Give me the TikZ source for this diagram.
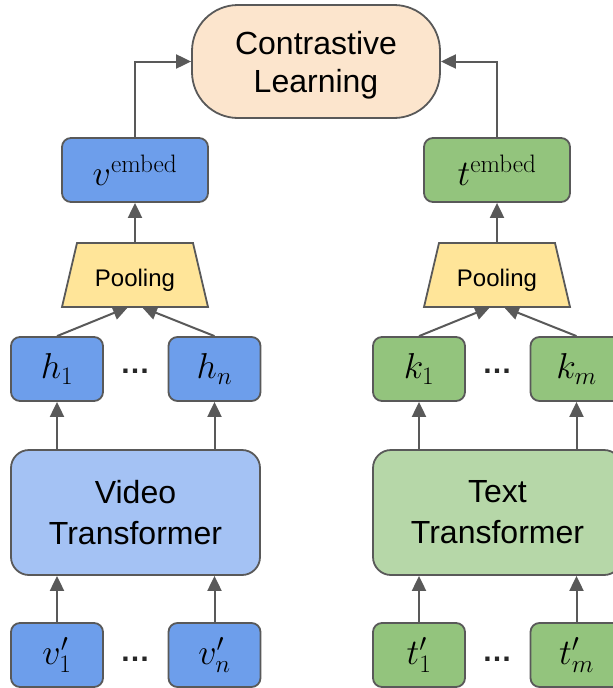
\RequirePackage{fix-cm}
\documentclass[tikz,border=0pt]{standalone}
\usepackage[no-math]{fontspec}
\setmainfont{Liberation Sans}
\usetikzlibrary{arrows.meta}
\definecolor{edgec}{HTML}{595959}
\definecolor{peach}{HTML}{FCE5CD}
\definecolor{blueA}{HTML}{6D9EEB}
\definecolor{blueB}{HTML}{A4C2F4}
\definecolor{greenA}{HTML}{93C47D}
\definecolor{greenB}{HTML}{B6D7A8}
\definecolor{poolc}{HTML}{FFE599}
\newcommand{\lowered}[2]{\raisebox{-#1}[\height][\depth]{#2}}
\tikzset{
  box/.style={draw=edgec, line width=1.8pt, rounded corners=9pt, minimum width=92pt, minimum height=64pt, inner sep=0pt, text=black, font=\fontsize{36}{42}\selectfont},
  vbox/.style={box, fill=blueA},
  gbox/.style={box, fill=greenA},
  embbox/.style={minimum width=146pt},
  bigbox/.style={draw=edgec, line width=1.8pt, rounded corners=18pt, minimum width=249pt, minimum height=125pt, inner sep=0pt, align=center, text=black, font=\fontsize{32}{41}\selectfont},
  clbox/.style={draw=edgec, line width=1.8pt, rounded corners=46pt, fill=peach, minimum width=248pt, minimum height=113pt, inner sep=0pt, align=center, text=black, font=\fontsize{32}{40}\selectfont},
  poolshape/.style={draw=edgec, line width=1.8pt, fill=poolc, line join=miter},
  pooltext/.style={minimum width=146pt, minimum height=64pt, inner sep=0pt, text=black, font=\fontsize{24}{28}\selectfont},
  dotsnode/.style={inner sep=0pt, text=black!85, font=\fontsize{30}{30}\selectfont\bfseries},
  conn/.style={draw=edgec, line width=2pt, -{Triangle[length=15pt,width=14pt]}}
}
\begin{document}
\begin{tikzpicture}[x=1pt,y=-1pt]
\useasboundingbox (0,0) rectangle (613,688);
\clip (0,0) rectangle (613,688);

% top
\node[clbox] (cl) at (316,61.5) {\lowered{4pt}{\begin{tabular}{@{}c@{}}Contrastive\\[-2pt]Learning\end{tabular}}};

% embeddings
\node[vbox, embbox] (vemb) at (135,170) {$v^{\mathrm{embed}}$};
\node[gbox, embbox] (temb) at (497,170) {$t^{\mathrm{embed}}$};

% pooling shapes
\draw[poolshape] (77,243) -- (193,243) -- (208,307) -- (62,307) -- cycle;
\draw[poolshape] (439,243) -- (555,243) -- (570,307) -- (424,307) -- cycle;
\node[pooltext] (poolL) at (135,275) {\lowered{5pt}{Pooling}};
\node[pooltext] (poolR) at (497,275) {\lowered{5pt}{Pooling}};

% hidden states
\node[vbox] (h1) at (57,369) {$h_1$};
\node[vbox] (hn) at (214.5,369) {$h_n$};
\node[dotsnode] (dh) at (135,371) {…};
\node[gbox] (k1) at (419,369) {$k_1$};
\node[gbox] (km) at (576.5,369) {$k_m$};
\node[dotsnode] (dk) at (497,371) {…};

% transformers
\node[bigbox, fill=blueB] (vt) at (135.5,512.5) {Video\\Transformer};
\node[bigbox, fill=greenB] (tt) at (497.5,512.5) {Text\\Transformer};

% inputs
\node[vbox] (v1) at (57,655) {$v'_1$};
\node[vbox] (vn) at (214.5,655) {$v'_n$};
\node[dotsnode] (dv) at (135,659) {…};
\node[gbox] (t1) at (419,655) {$t'_1$};
\node[gbox] (tm) at (576.5,655) {$t'_m$};
\node[dotsnode] (dt) at (497,659) {…};

% connectors
\draw[conn] (vemb.north) |- (cl.west);
\draw[conn] (temb.north) |- (cl.east);
\draw[conn] (poolL.north) -- (vemb.south);
\draw[conn] (poolR.north) -- (temb.south);
\draw[conn] (h1.north) -- ([xshift=-7pt]poolL.south);
\draw[conn] (hn.north) -- ([xshift=7pt]poolL.south);
\draw[conn] (k1.north) -- ([xshift=-7pt]poolR.south);
\draw[conn] (km.north) -- ([xshift=7pt]poolR.south);
\draw[conn] (h1.south |- vt.north) -- (h1.south);
\draw[conn] (hn.south |- vt.north) -- (hn.south);
\draw[conn] (k1.south |- tt.north) -- (k1.south);
\draw[conn] (km.south |- tt.north) -- (km.south);
\draw[conn] (v1.north) -- (v1.north |- vt.south);
\draw[conn] (vn.north) -- (vn.north |- vt.south);
\draw[conn] (t1.north) -- (t1.north |- tt.south);
\draw[conn] (tm.north) -- (tm.north |- tt.south);
\end{tikzpicture}
\end{document}
